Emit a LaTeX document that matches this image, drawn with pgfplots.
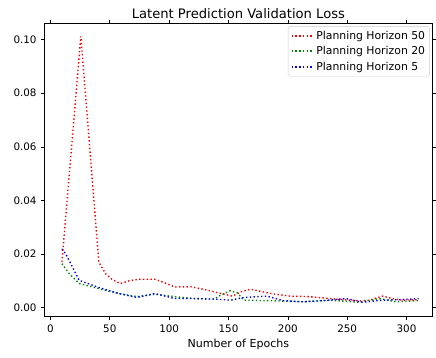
\documentclass[border=0pt]{standalone}
\usepackage{pgfplots}
\pgfplotsset{compat=1.18}
\usepackage{fontspec}
\setmainfont{DejaVu Sans}
\definecolor{mplgreen}{rgb}{0,0.5,0}
\tikzset{mpldot/.style={line width=1.4bp, dash pattern=on 1.4bp off 2.4bp}}
\begin{document}
\begin{tikzpicture}
\begin{axis}[
  name=ax,
  width=392bp, height=296bp, scale only axis,
  xmin=-5, xmax=321.7, ymin=-0.0033, ymax=0.1059,
  xtick={0,50,100,150,200,250,300},
  ytick={0,0.02,0.04,0.06,0.08,0.1},
  scaled y ticks=false,
  yticklabel style={xshift=-1bp, /pgf/number format/fixed, /pgf/number format/fixed zerofill, /pgf/number format/precision=2},
  /pgf/number format/assume math mode=true,
  tick align=outside, major tick length=3.5bp,
  tick style={black, line width=0.6bp},
  axis line style={line width=0.6bp},
  ticklabel style={font=\fontsize{10.5}{12}\selectfont},
  xticklabel style={yshift=-1bp},
  xlabel={Number of Epochs},
  xlabel style={font=\fontsize{11.2}{13}\selectfont, yshift=0bp},
  title={Latent Prediction Validation Loss},
  title style={font=\fontsize{13.3}{15}\selectfont, yshift=-4bp},
  legend style={at={(1,1)}, anchor=north east, xshift=-2.5bp, yshift=-2.5bp,
    draw=black!20, rounded corners=2bp, font=\fontsize{11}{13}\selectfont,
    row sep=2bp, inner sep=2.5bp},
  legend cell align=left,
  legend image code/.code={\draw[#1, line width=2bp, dash pattern=on 1.6bp off 2.2bp] (0bp,0bp) -- (22bp,0bp);},
]
\addplot[color=red, mpldot] coordinates {
(9.7,0.0170) (25.6,0.1012) (40.8,0.0170) (46.4,0.0127) (52,0.0105) (58.9,0.0090)
(66,0.0100) (74.2,0.0106) (88,0.0106) (95,0.0095) (104.7,0.0077) (118.6,0.0078)
(132.5,0.0065) (143.6,0.0053) (153.3,0.0043) (160.3,0.0059) (168.6,0.0069)
(185.3,0.0053) (202,0.0043) (218.6,0.0041) (235.3,0.0034) (252,0.0028)
(261.7,0.0025) (268.6,0.0028) (279.7,0.0043) (288,0.0034) (296.4,0.0028) (310.3,0.0030)
};
\addlegendentry{Planning Horizon 50}
\addplot[color=mplgreen, mpldot] coordinates {
(9.7,0.0164) (15.8,0.0127) (24.2,0.0090) (40.8,0.0071) (57.5,0.0053) (72.8,0.0041)
(88,0.0050) (104.7,0.0041) (121.4,0.0034) (138,0.0032) (143.6,0.0047) (151.4,0.0063)
(157.5,0.0055) (163,0.0028) (185.3,0.0026) (213,0.0022) (235.3,0.0028) (260.3,0.0020)
(277,0.0034) (290.8,0.0022) (310.3,0.0026)
};
\addlegendentry{Planning Horizon 20}
\addplot[color=blue, mpldot] coordinates {
(9.7,0.0219) (13,0.0200) (24.2,0.0102) (40.8,0.0075) (57.5,0.0053) (72.8,0.0038)
(88,0.0053) (104.7,0.0034) (121.4,0.0034) (138,0.0032) (152,0.0028) (163,0.0038)
(182.5,0.0043) (196.4,0.0026) (213,0.0022) (229.7,0.0026) (249,0.0034) (263,0.0020)
(279.7,0.0028) (296.4,0.0030) (310.3,0.0034)
};
\addlegendentry{Planning Horizon 5}
\end{axis}
\path ([shift={(-45bp,-41bp)}]ax.south west) rectangle ([shift={(0bp,24bp)}]ax.north east);
\end{tikzpicture}
\end{document}
